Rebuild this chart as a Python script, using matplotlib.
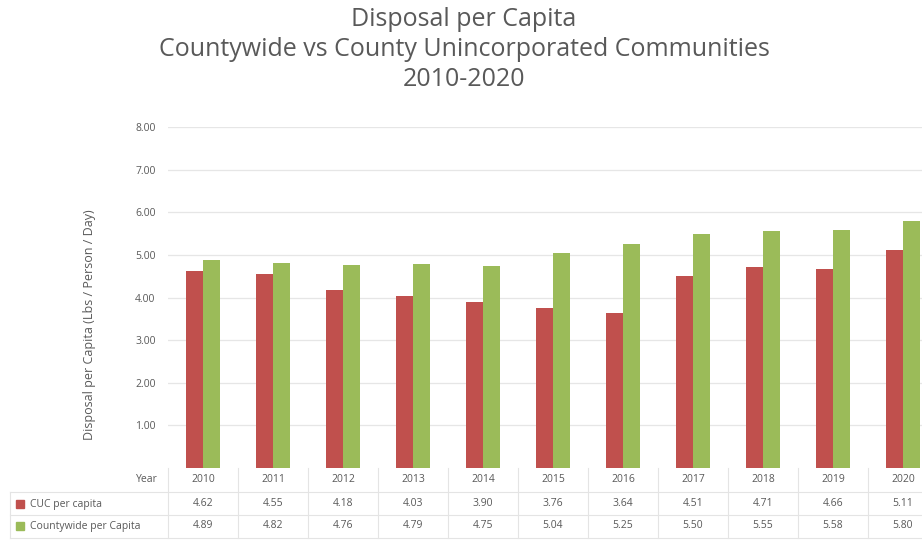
import numpy as np
import matplotlib.pyplot as plt
from matplotlib.patches import Rectangle

# data
years = ['2010', '2011', '2012', '2013', '2014', '2015', '2016', '2017', '2018', '2019', '2020']
cuc = [4.62, 4.55, 4.18, 4.03, 3.90, 3.76, 3.64, 4.51, 4.71, 4.66, 5.11]
county = [4.89, 4.82, 4.76, 4.79, 4.75, 5.04, 5.25, 5.50, 5.55, 5.58, 5.80]
cuc_name = 'CUC per capita'
county_name = 'Countywide per Capita'

red = '#C0504D'
green = '#9BBB59'
txt = '#595959'

plt.rcParams['font.family'] = ['Open Sans', 'DejaVu Sans']

W, H = 922, 540
fig = plt.figure(figsize=(W / 100, H / 100), dpi=100)
# plot area in pixels: left 168, right 938 (cut off), top 127 (8.00), bottom 468 (0)
L, R, T, B = 168, 938, 127, 468
ax = fig.add_axes([L / W, 1 - B / H, (R - L) / W, (B - T) / H])

x = np.arange(len(years))
bw = 0.245
ax.bar(x - bw / 2, cuc, bw, color=red, zorder=3)
ax.bar(x + bw / 2, county, bw, color=green, zorder=3)

ax.set_xlim(-0.5, len(years) - 0.5)
ax.set_ylim(0, 8)
ax.set_yticks(np.arange(1, 9))
ax.set_yticklabels(['%.2f' % v for v in np.arange(1, 9)], fontsize=7.5, color=txt)
ax.yaxis.grid(True, color='#E6E6E6', lw=0.9, zorder=0)
ax.tick_params(axis='y', length=0, pad=9)
ax.set_xticks([])
for s in ax.spines.values():
    s.set_visible(False)
ax.set_ylabel('Disposal per Capita (Lbs / Person / Day)', fontsize=9, color=txt)
ax.yaxis.set_label_coords(-(L - 96) / (R - L), (B - 325) / (B - T))

# title
title_lines = ['Disposal per Capita', 'Countywide vs County Unincorporated Communities', '2010-2020']
for py, line in zip([19, 50, 79], title_lines):
    fig.text(464 / W, 1 - py / H, line, ha='center', va='center', fontsize=18, color=txt)

# data table below the plot
tr = ax.get_xaxis_transform()
row_y = [480, 504, 526]
def yax(py):
    return (B - py) / (B - T)

x_left = -0.5 - (L - 10) / ((R - L) / len(years))
edges = [468, 492, 515, 538]
for py in edges[1:]:
    ax.plot([x_left, len(years) - 0.5], [yax(py)] * 2, transform=tr, color='#E4E4E4', lw=0.8, clip_on=False)
for i in range(len(years) + 1):
    ax.plot([i - 0.5] * 2, [yax(468), yax(538)], transform=tr, color='#E4E4E4', lw=0.8, clip_on=False)
ax.plot([x_left] * 2, [yax(492), yax(538)], transform=tr, color='#E4E4E4', lw=0.8, clip_on=False)

fs = 7.5
for i in range(len(years)):
    ax.text(x[i], yax(row_y[0]), years[i], transform=tr, ha='center', va='center', fontsize=fs, color=txt)
    ax.text(x[i], yax(row_y[1]), '%.2f' % cuc[i], transform=tr, ha='center', va='center', fontsize=fs, color=txt)
    ax.text(x[i], yax(row_y[2]), '%.2f' % county[i], transform=tr, ha='center', va='center', fontsize=fs, color=txt)

fig.text(158 / W, 1 - row_y[0] / H, 'Year', ha='right', va='center', fontsize=fs, color=txt)
for py, name, c in [(row_y[1], cuc_name, red), (row_y[2], county_name, green)]:
    fig.patches.append(Rectangle((16 / W, 1 - (py + 4) / H), 8 / W, 8 / H, color=c, transform=fig.transFigure))
    fig.text(30 / W, 1 - py / H, name, ha='left', va='center', fontsize=fs, color=txt)

fig.savefig('out.png', dpi=100)
